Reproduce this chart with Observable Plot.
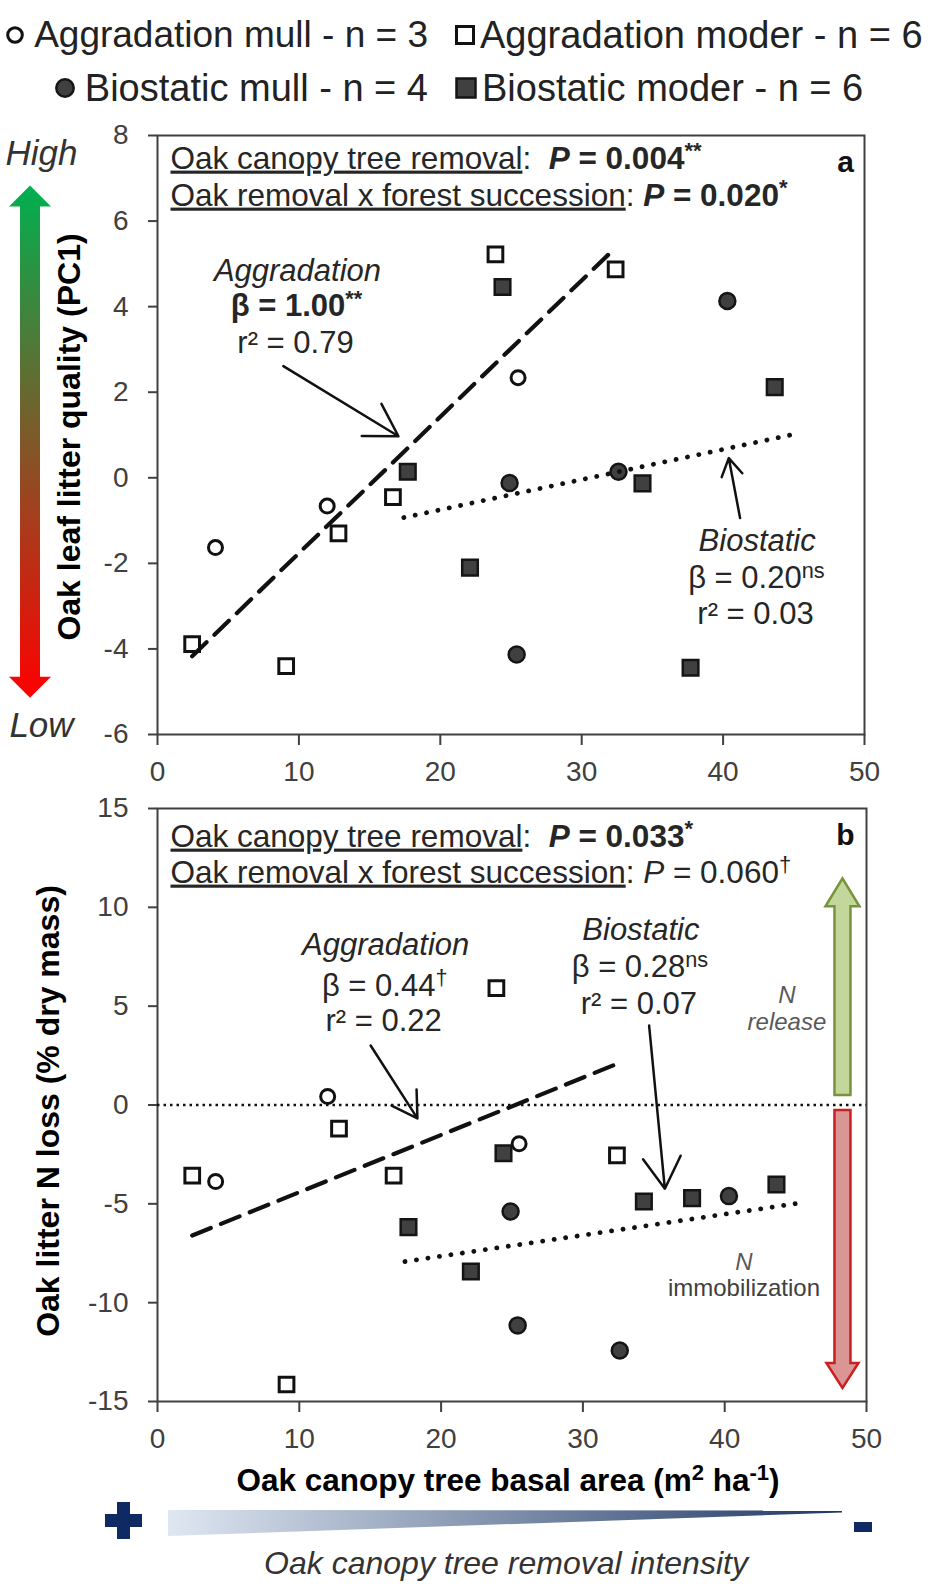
<!DOCTYPE html>
<html><head><meta charset="utf-8">
<script src="https://cdn.jsdelivr.net/npm/d3@7"></script>
<script src="https://cdn.jsdelivr.net/npm/@observablehq/plot@0.6"></script>
<style>
body{margin:0;background:#fff;font-family:"Liberation Sans",Arial,Helvetica,sans-serif;}
#page{position:relative;width:946px;height:1591px;overflow:hidden;background:#fff;}
.leg{position:absolute;display:flex;align-items:center;height:44px;font-size:38px;color:#222;white-space:nowrap;}
svg text{white-space:pre;}
</style></head><body><div id="page"></div>
<script>
// ---------------- data ----------------
const xTicks = [0, 10, 20, 30, 40, 50];
const yTicksA = [-6, -4, -2, 0, 2, 4, 6, 8];
const yTicksB = [-15, -10, -5, 0, 5, 10, 15];

const legendLabels = ["Aggradation mull - n = 3", "Aggradation moder - n = 6", "Biostatic mull - n = 4", "Biostatic moder - n = 6"];

// oak canopy tree basal area (m2/ha) per site, by group
const aggMullBA = [4.1, 12.0, 25.5];
const aggModerBA = [2.45, 9.1, 12.8, 16.65, 23.9, 32.4];
const bioMullBA = [24.9, 25.4, 32.6, 40.3];
const bioModerBA = [17.7, 22.1, 24.4, 34.3, 37.7, 43.65];

// panel a: oak leaf litter quality (PC1)
const aggMullPC1 = [-1.63, -0.66, 2.34];
const aggModerPC1 = [-3.89, -4.40, -1.30, -0.45, 5.22, 4.87];
const bioMullPC1 = [-0.12, -4.13, 0.14, 4.13];
const bioModerPC1 = [0.14, -2.10, 4.46, -0.13, -4.44, 2.12];

// panel b: oak litter N loss (% dry mass)
const aggMullNloss = [-3.87, 0.43, -1.96];
const aggModerNloss = [-3.57, -14.14, -1.20, -3.57, 5.91, -2.55];
const bioMullNloss = [-5.39, -11.15, -12.42, -4.61];
const bioModerNloss = [-6.18, -8.42, -2.44, -4.88, -4.71, -4.02];

// fitted regression lines (end points)
const aggFitBA_A = [2.45, 32.15], aggFitPC1 = [-4.17, 5.30];
const bioFitBA_A = [17.42, 44.77], bioFitPC1 = [-0.93, 1.00];
const aggFitBA_B = [2.45, 32.68], aggFitNloss = [-6.60, 2.16];
const bioFitBA_B = [17.45, 45.2], bioFitNloss = [-7.92, -4.97];

// ---------------- helpers ----------------
const FONT = '"Liberation Sans", Arial, Helvetica, sans-serif';
const zip = (xs, ys) => xs.map((x, i) => ({x, y: ys[i]}));
const page = document.getElementById("page");
function place(el, top, left = 0) {
  const d = document.createElement("div");
  d.style.cssText = `position:absolute;top:${top}px;left:${left}px;`;
  d.appendChild(el); page.appendChild(d); return d;
}
// convert simple markup (<u>,<b>,<i>,<sup>) in svg text into tspans
function richify(root) {
  root.querySelectorAll("text").forEach(t => {
    const s = t.textContent;
    if (!s.includes("<")) return;
    const fs = parseFloat(getComputedStyle(t).fontSize) || 28;
    const toks = s.match(/<\/?(?:u|b|i|sup)>|[^<]+/g);
    while (t.firstChild) t.removeChild(t.firstChild);
    let u = false, b = false, it = false, sup = false, pendingDown = 0;
    const NS = "http://www.w3.org/2000/svg";
    for (const tk of toks) {
      if (tk === "<u>") u = true; else if (tk === "</u>") u = false;
      else if (tk === "<b>") b = true; else if (tk === "</b>") b = false;
      else if (tk === "<i>") it = true; else if (tk === "</i>") it = false;
      else if (tk === "<sup>") sup = true; else if (tk === "</sup>") { sup = false; pendingDown = fs * 0.33; }
      else {
        const ts = document.createElementNS(NS, "tspan");
        ts.textContent = tk;
        if (b) ts.setAttribute("font-weight", "bold");
        if (it) ts.setAttribute("font-style", "italic");
        if (u) ts.setAttribute("text-decoration", "underline");
        if (sup) { ts.setAttribute("font-size", fs * 0.7); ts.setAttribute("dy", -fs * 0.33); }
        else if (pendingDown) { ts.setAttribute("dy", pendingDown); pendingDown = 0; }
        t.appendChild(ts);
      }
    }
  });
}
function dotMarks(ba, vals) {
  return [
    Plot.dot(zip(ba[0], vals[0]), {x: "x", y: "y", symbol: "circle", r: 7, fill: "white", stroke: "#111", strokeWidth: 3}),
    Plot.dot(zip(ba[1], vals[1]), {x: "x", y: "y", symbol: "square", r: 8.3, fill: "white", stroke: "#111", strokeWidth: 3}),
    Plot.dot(zip(ba[2], vals[2]), {x: "x", y: "y", symbol: "circle", r: 8, fill: "#404040", stroke: "#151515", strokeWidth: 2.5}),
    Plot.dot(zip(ba[3], vals[3]), {x: "x", y: "y", symbol: "square", r: 8.8, fill: "#404040", stroke: "#151515", strokeWidth: 2.5})
  ];
}
const dashed = {stroke: "#111", strokeWidth: 4.2, strokeDasharray: "20,11"};
const dotted = {stroke: "#111", strokeWidth: 4.8, strokeDasharray: "0.1,11.5", strokeLinecap: "round"};
const arrowStyle = {x1: "x1", y1: "y1", x2: "x2", y2: "y2", stroke: "#111", strokeWidth: 2.5, headLength: 22, headAngle: 62};
const annoText = (rows) => Plot.text(rows, {x: "x", y: "y", text: "t", fontSize: 31, fill: "#262626", textAnchor: "middle", lineAnchor: "middle"});
const headText = (t, dy) => Plot.text([t], {text: d => d, frameAnchor: "top-left", dx: 13, dy, fontSize: 31.5, fill: "#262626", textAnchor: "start", lineAnchor: "middle"});

// ---------------- legend ----------------
const symSvg = {
  0: `<svg width="18" height="18"><circle cx="9" cy="9" r="7.3" fill="#fff" stroke="#111" stroke-width="3"/></svg>`,
  1: `<svg width="22" height="22"><rect x="2.5" y="2.5" width="17" height="17" fill="#fff" stroke="#111" stroke-width="3"/></svg>`,
  2: `<svg width="22" height="22"><circle cx="11" cy="11" r="8.7" fill="#404040" stroke="#151515" stroke-width="2.5"/></svg>`,
  3: `<svg width="24" height="24"><rect x="2.5" y="2.5" width="19" height="19" fill="#404040" stroke="#151515" stroke-width="2.5"/></svg>`
};
const legPos = [{top: 35, col: 1}, {top: 35, col: 2}, {top: 88, col: 1}, {top: 88, col: 2}];
legendLabels.forEach((lab, i) => {
  const d = document.createElement("div");
  d.className = "leg";
  const p = legPos[i];
  d.style.top = (p.top - 22) + "px";
  if (p.col === 1) { d.style.right = (946 - 428) + "px"; d.style.gap = i === 0 ? "10px" : "9px"; if (i === 0) d.style.fontSize = "37px"; }
  else { d.style.left = "454px"; d.style.gap = "4px"; }
  d.innerHTML = symSvg[i] + `<span>${lab}</span>`;
  page.appendChild(d);
});

// ---------------- panel a ----------------
const gradArrow = (index, {y}) => {
  const g = d3.create("svg:g");
  const gr = g.append("defs").append("linearGradient").attr("id", "pc1Grad")
    .attr("x1", 0).attr("y1", 0).attr("x2", 0).attr("y2", 1);
  gr.append("stop").attr("offset", "0%").attr("stop-color", "#00b050");
  gr.append("stop").attr("offset", "100%").attr("stop-color", "#ff0000");
  const cx = 30, yT = y(6.82), yB = y(-5.15), hw = 21, hl = 21, sw = 10;
  const pts = [[cx, yT], [cx + hw, yT + hl], [cx + sw, yT + hl], [cx + sw, yB - hl], [cx + hw, yB - hl], [cx, yB],
    [cx - hw, yB - hl], [cx - sw, yB - hl], [cx - sw, yT + hl], [cx - hw, yT + hl]];
  g.append("path").attr("d", "M" + pts.map(p => p.join(",")).join("L") + "Z").attr("fill", "url(#pc1Grad)");
  return g.node();
};

const panelA = Plot.plot({
  width: 946, height: 680,
  marginTop: 25, marginBottom: 56, marginLeft: 157, marginRight: 82,
  x: {domain: [0, 50]},
  y: {domain: [-6, 8]},
  style: {fontFamily: FONT, fontSize: "28px", color: "#404040", background: "transparent", overflow: "visible"},
  marks: [
    Plot.frame({stroke: "#404040", strokeWidth: 2}),
    Plot.axisX({ticks: xTicks, tickSize: 11, tickPadding: 16, tickFormat: d => String(d), label: null, fontSize: 28, strokeWidth: 2}),
    Plot.axisY({ticks: yTicksA, tickSize: 9, tickPadding: 20, tickFormat: d => String(d), label: null, fontSize: 28, strokeWidth: 2}),
    Plot.text(["Oak leaf litter quality (PC1)"], {text: d => d, frameAnchor: "left", dx: -88, dy: 2, rotate: -90, fontWeight: "bold", fontSize: 32, fill: "#000", textAnchor: "middle", lineAnchor: "middle"}),
    gradArrow,
    Plot.text(["High"], {text: d => d, frameAnchor: "top-left", dx: -116, dy: 18, fontStyle: "italic", fontSize: 35, fill: "#333", textAnchor: "middle", lineAnchor: "middle"}),
    Plot.text(["Low"], {text: d => d, frameAnchor: "bottom-left", dx: -116, dy: -9, fontStyle: "italic", fontSize: 35, fill: "#333", textAnchor: "middle", lineAnchor: "middle"}),
    ...dotMarks([aggMullBA, aggModerBA, bioMullBA, bioModerBA], [aggMullPC1, aggModerPC1, bioMullPC1, bioModerPC1]),
    Plot.line(zip(aggFitBA_A, aggFitPC1), {x: "x", y: "y", ...dashed}),
    Plot.line(zip(bioFitBA_A, bioFitPC1), {x: "x", y: "y", ...dotted}),
    annoText([
      {x: 9.9, y: 4.83, t: "<i>Aggradation</i>"},
      {x: 9.83, y: 4.01, t: "<b>β = 1.00<sup>**</sup></b>"},
      {x: 9.76, y: 3.15, t: "r² = 0.79"},
      {x: 42.41, y: -1.48, t: "<i>Biostatic</i>"},
      {x: 42.35, y: -2.34, t: "β = 0.20<sup>ns</sup>"},
      {x: 42.29, y: -3.18, t: "r² = 0.03"}
    ]),
    Plot.arrow([{x1: 8.9, y1: 2.61, x2: 17.04, y2: 0.97}, {x1: 41.2, y1: -0.94, x2: 40.4, y2: 0.46}], arrowStyle),
    headText("<u>Oak canopy tree removal</u>:  <b><i>P</i> = 0.004<sup>**</sup></b>", 23),
    headText("<u>Oak removal x forest succession</u>: <b><i>P</i> = 0.020<sup>*</sup></b>", 60),
    Plot.text(["a"], {text: d => d, frameAnchor: "top-right", dx: -19, dy: 27, fontSize: 30, fontWeight: "bold", fill: "#111", textAnchor: "middle", lineAnchor: "middle"})
  ]
});
place(panelA, 110);
richify(panelA);

// ---------------- panel b ----------------
const blockArrow = (spec) => (index, {x, y}) => {
  const g = d3.create("svg:g");
  const cx = x(spec.x), y0 = y(spec.from), y1 = y(spec.to);
  const dir = Math.sign(y1 - y0), hb = y1 - dir * spec.headLen;
  const pts = [[cx - spec.shaft, y0], [cx + spec.shaft, y0], [cx + spec.shaft, hb], [cx + spec.head, hb], [cx, y1], [cx - spec.head, hb], [cx - spec.shaft, hb]];
  g.append("path").attr("d", "M" + pts.map(p => p.join(",")).join("L") + "Z")
    .attr("fill", spec.fill).attr("stroke", spec.stroke).attr("stroke-width", 2.5).attr("stroke-linejoin", "miter");
  return g.node();
};

const panelB = Plot.plot({
  width: 946, height: 710,
  marginTop: 18, marginBottom: 99, marginLeft: 157, marginRight: 80,
  x: {domain: [0, 50]},
  y: {domain: [-15, 15]},
  style: {fontFamily: FONT, fontSize: "28px", color: "#404040", background: "transparent", overflow: "visible"},
  marks: [
    Plot.frame({stroke: "#404040", strokeWidth: 2}),
    Plot.axisX({ticks: xTicks, tickSize: 11, tickPadding: 16, tickFormat: d => String(d), label: null, fontSize: 28, strokeWidth: 2}),
    Plot.axisY({ticks: yTicksB, tickSize: 9, tickPadding: 20, tickFormat: d => String(d), label: null, fontSize: 28, strokeWidth: 2}),
    Plot.text(["Oak litter N loss (% dry mass)"], {text: d => d, frameAnchor: "left", dx: -109, dy: 6, rotate: -90, fontWeight: "bold", fontSize: 32, fill: "#000", textAnchor: "middle", lineAnchor: "middle"}),
    Plot.text(["<b>Oak canopy tree basal area (m<sup>2</sup> ha<sup>-1</sup>)</b>"], {text: d => d, frameAnchor: "bottom", dx: -4, dy: 79, fontSize: 31.5, fill: "#000", textAnchor: "middle", lineAnchor: "middle"}),
    blockArrow({x: 48.34, from: 0.48, to: 11.44, shaft: 8, head: 17, headLen: 28, fill: "#c3d69b", stroke: "#77933c"}),
    blockArrow({x: 48.34, from: -0.28, to: -14.34, shaft: 8, head: 16, headLen: 25, fill: "#d99694", stroke: "#cc1f1f"}),
    ...dotMarks([aggMullBA, aggModerBA, bioMullBA, bioModerBA], [aggMullNloss, aggModerNloss, bioMullNloss, bioModerNloss]),
    Plot.ruleY([0], {stroke: "#111", strokeWidth: 2.6, strokeDasharray: "2.5,4"}),
    Plot.line(zip(aggFitBA_B, aggFitNloss), {x: "x", y: "y", ...dashed}),
    Plot.line(zip(bioFitBA_B, bioFitNloss), {x: "x", y: "y", ...dotted}),
    annoText([
      {x: 16.09, y: 8.07, t: "<i>Aggradation</i>"},
      {x: 16.02, y: 6.04, t: "β = 0.44<sup>†</sup>"},
      {x: 15.95, y: 4.27, t: "r² = 0.22"},
      {x: 34.09, y: 8.83, t: "<i>Biostatic</i>"},
      {x: 34.02, y: 6.97, t: "β = 0.28<sup>ns</sup>"},
      {x: 33.95, y: 5.13, t: "r² = 0.07"}
    ]),
    Plot.text([{x: 44.39, y: 5.54, t: "N"}, {x: 44.39, y: 4.19, t: "release"}, {x: 41.36, y: -7.95, t: "N"}], {x: "x", y: "y", text: "t", fontSize: 24, fontStyle: "italic", fill: "#595959", textAnchor: "middle", lineAnchor: "middle"}),
    Plot.text([{x: 41.36, y: -9.28, t: "immobilization"}], {x: "x", y: "y", text: "t", fontSize: 24, fill: "#404040", textAnchor: "middle", lineAnchor: "middle"}),
    Plot.arrow([{x1: 15.03, y1: 3.01, x2: 18.33, y2: -0.68}, {x1: 34.67, y1: 4.02, x2: 35.78, y2: -4.24}], arrowStyle),
    headText("<u>Oak canopy tree removal</u>:  <b><i>P</i> = 0.033<sup>*</sup></b>", 28),
    headText("<u>Oak removal x forest succession</u>: <i>P</i> = 0.060<sup>†</sup>", 64),
    Plot.text(["b"], {text: d => d, frameAnchor: "top-right", dx: -21, dy: 27, fontSize: 30, fontWeight: "bold", fill: "#111", textAnchor: "middle", lineAnchor: "middle"})
  ]
});
place(panelB, 790);
richify(panelB);

// ---------------- removal intensity wedge ----------------
const bottom = d3.create("svg").attr("width", 946).attr("height", 96).attr("font-family", FONT);
const bg = bottom.append("defs").append("linearGradient").attr("id", "wedgeGrad");
bg.append("stop").attr("offset", "0%").attr("stop-color", "#dfe7f2");
bg.append("stop").attr("offset", "100%").attr("stop-color", "#1f3864");
const o = 1495;
bottom.append("path").attr("d", `M168,${1510 - o}L842,${1510.5 - o}L842,${1512.5 - o}L168,${1536 - o}Z`).attr("fill", "url(#wedgeGrad)");
bottom.append("rect").attr("x", 105).attr("y", 1514 - o).attr("width", 37).attr("height", 13).attr("fill", "#0f2a63");
bottom.append("rect").attr("x", 117).attr("y", 1502 - o).attr("width", 13).attr("height", 37).attr("fill", "#0f2a63");
bottom.append("rect").attr("x", 854).attr("y", 1522 - o).attr("width", 18).attr("height", 10).attr("fill", "#0f2a63");
bottom.append("text").attr("x", 506).attr("y", 1563 - o).attr("dy", "0.35em").attr("text-anchor", "middle")
  .attr("font-size", 32).attr("font-style", "italic").attr("fill", "#333").text("Oak canopy tree removal intensity");
place(bottom.node(), o);
</script></body></html>
